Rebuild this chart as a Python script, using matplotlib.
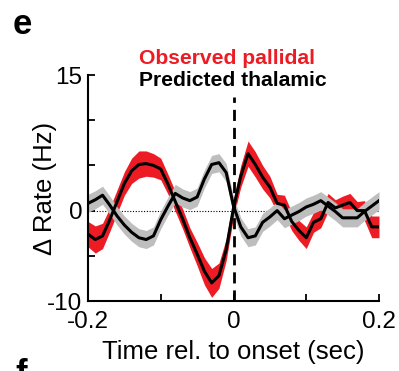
import numpy as np
import matplotlib
matplotlib.use("Agg")
import matplotlib.pyplot as plt

plt.rcParams['font.family'] = ['Liberation Sans', 'DejaVu Sans']

time_s = [round(-0.2 + 0.01 * k, 2) for k in range(41)]
observed = [-2.6, -3.2, -2.8, -1.0, 1.0, 3.0, 4.4, 5.1, 5.2, 5.0,
            4.6, 2.9, 1.0, -0.9, -3.0, -4.8, -6.7, -8.0, -7.2, -4.3,
            0.3, 3.8, 6.3, 5.1, 3.7, 2.6, 0.8, 0.6, -1.2, -2.2,
            -3.0, -1.3, -0.9, 0.9, 0.3, 0.6, 0.9, 0.0, 0.0, -1.8, -1.8]
observed_sem = [1.4, 1.5, 1.4, 1.3, 1.3, 1.3, 1.4, 1.5, 1.4, 1.3,
                1.2, 1.1, 1.1, 1.1, 1.1, 1.3, 1.5, 1.6, 1.4, 1.2,
                1.0, 1.2, 1.4, 1.4, 1.3, 1.2, 1.0, 1.1, 1.0, 1.1,
                1.2, 1.1, 1.0, 1.0, 0.9, 1.0, 1.0, 1.0, 1.1, 1.2, 1.2]
predicted = [0.8, 1.2, 1.7, 0.6, -0.6, -1.6, -2.4, -3.0, -3.2, -2.8,
             -1.0, 0.5, 1.9, 1.4, 1.1, 1.5, 3.5, 5.1, 5.3, 4.2,
             0.5, -1.8, -3.0, -2.8, -1.3, -0.7, 0.0, -0.9, -0.5, -0.1,
             0.4, 0.7, 1.1, 0.5, -0.1, -0.8, -0.8, -0.8, -0.1, 0.5, 1.1]
predicted_sem = [1.0, 1.0, 1.0, 1.0, 1.0, 1.0, 1.0, 1.0, 1.0, 1.0,
                 1.0, 1.0, 1.0, 1.0, 1.0, 1.0, 1.0, 1.0, 1.0, 1.0,
                 1.0, 1.0, 1.0, 1.0, 1.0, 1.0, 1.0, 1.0, 1.0, 1.0,
                 1.0, 1.0, 1.0, 1.0, 1.0, 1.0, 1.0, 1.0, 1.0, 1.0, 1.0]

xticks = [-0.2, -0.1, 0, 0.1, 0.2]
xticklabels = ['-0.2', '', '0', '', '0.2']
yticks = [-10, -5, 0, 5, 10, 15]
yticklabels = ['-10', '', '0', '', '', '15']

t = np.array(time_s)
obs = np.array(observed)
obs_e = np.array(observed_sem)
pred = np.array(predicted)
pred_e = np.array(predicted_sem)

W, H = 399, 371
fig = plt.figure(figsize=(W / 100, H / 100), dpi=100)
ax = fig.add_axes([88 / W, 1 - 301 / H, (379 - 88) / W, (301 - 75) / H])

red = '#ED1C24'
gray = '#BEBEBE'

ax.fill_between(t, obs - obs_e, obs + obs_e, color=red, lw=0, zorder=1)
ax.fill_between(t, pred - pred_e, pred + pred_e, color=gray, lw=0, zorder=2)
ax.plot(t, obs, color='black', lw=2.2, zorder=3)
ax.plot(t, pred, color='black', lw=2.2, zorder=4)

ax.axhline(0, color='black', lw=0.8, ls=(0, (1, 1.5)), zorder=0)
ax.plot([0, 0], [-10, 12.6], color='black', lw=2.0, ls=(0, (4, 2.5)), zorder=5,
        clip_on=False)

ax.set_xlim(-0.2, 0.2)
ax.set_ylim(-10, 15)
ax.set_xticks(xticks)
ax.set_xticklabels(xticklabels)
ax.set_yticks(yticks)
ax.set_yticklabels(yticklabels)
ax.tick_params(direction='in', length=5, width=1.3, labelsize=17.5)
ax.tick_params(axis='x', pad=7)
ax.tick_params(axis='y', pad=4)
for s in ['top', 'right']:
    ax.spines[s].set_visible(False)
for s in ['left', 'bottom']:
    ax.spines[s].set_linewidth(1.5)

fig.text(233.5 / W, 1 - 352 / H, 'Time rel. to onset (sec)', ha='center', va='center',
         fontsize=18.5)
fig.text(45 / W, 1 - 188 / H, 'Δ Rate (Hz)', ha='center', va='center',
         rotation=90, fontsize=18.5)
fig.text(139 / W, 1 - 58 / H, 'Observed pallidal', color=red, fontweight='bold',
         fontsize=15.2, ha='left', va='center')
fig.text(139 / W, 1 - 81 / H, 'Predicted thalamic', color='black', fontweight='bold',
         fontsize=15.2, ha='left', va='center')
fig.text(13 / W, 1 - 24 / H, 'e', fontweight='bold', fontsize=25, ha='left', va='center')
fig.text(15 / W, 1 - 358 / H, 'f', fontweight='bold', fontsize=25, ha='left', va='top')

fig.savefig('out.png', dpi=100)
